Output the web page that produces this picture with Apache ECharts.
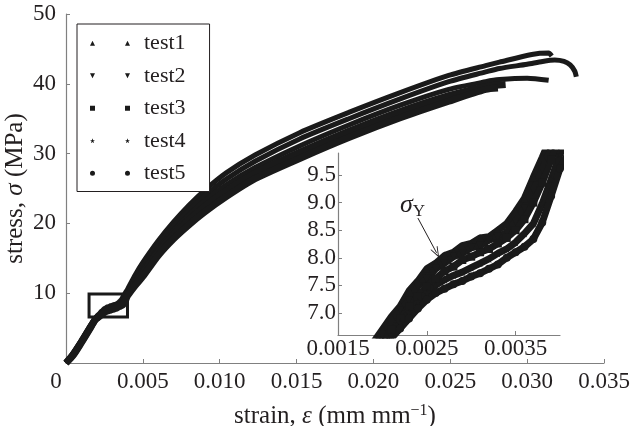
<!DOCTYPE html>
<html><head><meta charset="utf-8">
<script src="https://cdn.jsdelivr.net/npm/echarts@6/dist/echarts.min.js"></script>
<style>html,body{margin:0;padding:0;background:#fff}#c{width:632px;height:426px}</style>
</head><body><div id="c"></div>
<script>
const seriesNames = ['test1', 'test2', 'test3', 'test4', 'test5'];

const test1 = [[0,0],[0.0005,1.6],[0.001,3.3],[0.0015,5.1],
[0.0019,6.47],[0.0020,6.70],[0.0021,6.93],[0.0022,7.12],[0.0023,7.40],[0.0024,7.58],[0.0025,7.80],[0.0026,7.90],[0.0027,8.04],[0.0028,8.10],[0.0029,8.22],[0.0030,8.26],[0.0031,8.36],[0.0032,8.38],[0.0033,8.50],[0.0034,8.62],[0.0035,8.84],[0.0036,9.08],[0.0037,9.46],[0.0038,9.82],[0.0039,10.20],[0.0040,10.55],
[0.0045,12.6],[0.005,14.4],[0.006,17.5],[0.007,20.2],[0.008,22.6],[0.009,24.7],[0.0104,27.2],[0.0123,29.8],[0.0152,33.0],[0.0184,35.9],[0.0217,38.7],[0.0249,41.2],[0.0273,42.6],[0.0282,43.1],[0.0303,44.2],[0.0314,44.4],[0.0316,44.0]];

const test2 = [[0,0],[0.0005,1.5],[0.001,3.2],[0.0015,5.0],
[0.0019,6.38],[0.0020,6.60],[0.0021,6.80],[0.0022,7.05],[0.0023,7.22],[0.0024,7.48],[0.0025,7.62],[0.0026,7.80],[0.0027,7.90],[0.0028,8.02],[0.0029,8.08],[0.0030,8.18],[0.0031,8.22],[0.0032,8.32],[0.0033,8.38],[0.0034,8.46],[0.0035,8.66],[0.0036,8.90],[0.0037,9.22],[0.0038,9.60],[0.0039,9.98],[0.0040,10.35],
[0.0045,12.3],[0.005,13.9],[0.006,17.0],[0.007,19.6],[0.008,21.9],[0.009,23.9],[0.0104,26.3],[0.0123,28.9],[0.0152,32.1],[0.0184,35.0],[0.0217,37.8],[0.0249,40.3],[0.0273,41.7],[0.0282,42.2],[0.030,42.8],[0.031,43.2],[0.0318,43.4],[0.0324,43.2],[0.0328,42.7],[0.0331,41.8],[0.0332,41.0]];

const test3 = [[0,0],[0.0005,1.4],[0.001,3.1],[0.0015,4.9],
[0.0019,6.30],[0.0020,6.50],[0.0021,6.70],[0.0022,6.90],[0.0023,7.12],[0.0024,7.30],[0.0025,7.48],[0.0026,7.62],[0.0027,7.76],[0.0028,7.84],[0.0029,7.96],[0.0030,8.02],[0.0031,8.10],[0.0032,8.16],[0.0033,8.26],[0.0034,8.36],[0.0035,8.50],[0.0036,8.70],[0.0037,9.00],[0.0038,9.36],[0.0039,9.78],[0.0040,10.15],
[0.0045,11.9],[0.005,13.4],[0.006,16.4],[0.007,19.0],[0.008,21.2],[0.009,23.2],[0.0104,25.5],[0.0123,28.0],[0.0152,31.1],[0.0184,34.1],[0.0217,36.9],[0.0249,39.2],[0.0273,40.3],[0.0282,40.6],[0.030,40.8],[0.0314,40.5]];

const test4 = [[0,0],[0.0005,1.3],[0.001,3.0],[0.0015,4.8],
[0.0019,6.24],[0.0020,6.44],[0.0021,6.60],[0.0022,6.82],[0.0023,7.00],[0.0024,7.20],[0.0025,7.36],[0.0026,7.50],[0.0027,7.60],[0.0028,7.68],[0.0029,7.74],[0.0030,7.82],[0.0031,7.90],[0.0032,7.98],[0.0033,8.08],[0.0034,8.16],[0.0035,8.28],[0.0036,8.44],[0.0037,8.62],[0.0038,8.98],[0.0039,9.42],[0.0040,9.88],
[0.0045,11.4],[0.005,12.9],[0.006,15.9],[0.007,18.4],[0.008,20.5],[0.009,22.4],[0.0104,24.6],[0.0123,27.2],[0.0152,30.2],[0.0184,33.2],[0.0217,36.0],[0.0249,38.3],[0.0273,39.6],[0.0286,39.9]];

const test5 = [[0,0],[0.0005,1.2],[0.001,2.9],[0.0015,4.7],
[0.0019,6.18],[0.0020,6.36],[0.0021,6.54],[0.0022,6.72],[0.0023,6.90],[0.0024,7.08],[0.0025,7.24],[0.0026,7.36],[0.0027,7.44],[0.0028,7.52],[0.0029,7.58],[0.0030,7.66],[0.0031,7.72],[0.0032,7.80],[0.0033,7.88],[0.0034,8.00],[0.0035,8.10],[0.0036,8.20],[0.0037,8.34],[0.0038,8.64],[0.0039,9.12],[0.0040,9.62],
[0.0045,11.1],[0.005,12.4],[0.006,15.4],[0.007,17.8],[0.008,19.8],[0.009,21.6],[0.0104,23.8],[0.0123,26.4],[0.0152,29.3],[0.0184,32.3],[0.0217,35.1],[0.0249,37.5],[0.0273,39.2],[0.0281,39.4]];

const insetXRange = [0.0015, 0.004];
const insetYRange = [6.6, 9.9];
const insetXTicks = [0.0015, 0.0025, 0.0035];
const insetYTicks = [7.0, 7.5, 8.0, 8.5, 9.0, 9.5];
const yieldArrowFrom = [0.0024, 8.72];
const yieldArrowTo = [0.00261, 8.09];
const yieldLabelAt = [0.00234, 8.95];

const tests = [test1, test2, test3, test4, test5];
const FONT = '"Liberation Serif", "Times New Roman", serif';
const TXT = '#231f20';
const AX = '#808080';
const INK = '#1a1a1a';

const legendIcons = [
  'path://M0,10 L5,0 L10,10 Z M70,10 L75,0 L80,10 Z',
  'path://M0,0 L10,0 L5,10 Z M70,0 L80,0 L75,10 Z',
  'path://M0,0 L10,0 L10,10 L0,10 Z M70,0 L80,0 L80,10 L70,10 Z',
  'path://M5,0 L6.2,3.8 L10,3.8 L6.9,6.1 L8.1,10 L5,7.6 L1.9,10 L3.1,6.1 L0,3.8 L3.8,3.8 Z M75,0 L76.2,3.8 L80,3.8 L76.9,6.1 L78.1,10 L75,7.6 L71.9,10 L73.1,6.1 L70,3.8 L73.8,3.8 Z',
  'path://M0,5 A5,5 0 1,0 10,5 A5,5 0 1,0 0,5 Z M70,5 A5,5 0 1,0 80,5 A5,5 0 1,0 70,5 Z'
];
const insetSymbols = [
  'triangle',
  'path://M0,0 L10,0 L5,10 Z',
  'rect',
  'path://M5,0 L6.2,3.8 L10,3.8 L6.9,6.1 L8.1,10 L5,7.6 L1.9,10 L3.1,6.1 L0,3.8 L3.8,3.8 Z',
  'circle'
];

const mainSeries = tests.map((d, i) => ({
  name: seriesNames[i], type: 'line', xAxisIndex: 0, yAxisIndex: 0, data: d,
  smooth: 0.25,
  showSymbol: false, lineStyle: { color: INK, width: i >= 3 ? 7 : 5, join: 'round' },
  itemStyle: { color: INK }, z: 3, silent: true
}));
mainSeries[0].markArea = {
  silent: true,
  itemStyle: { color: 'rgba(0,0,0,0)', borderColor: INK, borderWidth: 3 },
  data: [[{ coord: [insetXRange[0], insetYRange[0]] }, { coord: [insetXRange[1], insetYRange[1]] }]]
};

const insetSeries = tests.map((d, i) => ({
  name: seriesNames[i], type: 'line', xAxisIndex: 1, yAxisIndex: 1, data: d,
  symbol: insetSymbols[i], symbolSize: 8, showSymbol: true, showAllSymbol: true,
  lineStyle: { color: INK, width: 7 }, itemStyle: { color: INK }, z: 3, silent: true
}));
insetSeries[0].markLine = {
  silent: true, symbol: ['none', 'path://M5,0 L10,10 L8.8,10 L5,2.4 L1.2,10 L0,10 Z'], symbolSize: [8, 11],
  lineStyle: { color: TXT, width: 1, type: 'solid' }, label: { show: false },
  data: [[{ coord: yieldArrowFrom }, { coord: yieldArrowTo }]]
};
insetSeries[0].markPoint = {
  silent: true, symbol: 'circle', symbolSize: 0,
  label: {
    show: true, position: 'inside', formatter: '{s|σ}{y|Y}',
    rich: {
      s: { fontFamily: FONT, fontSize: 26, fontStyle: 'italic', color: TXT },
      y: { fontFamily: FONT, fontSize: 17, color: TXT, padding: [12, 0, 0, 0] }
    }
  },
  data: [{ coord: yieldLabelAt }]
};

const chart = echarts.init(document.getElementById('c'), null, { renderer: 'canvas' });
chart.setOption({
  animation: false,
  backgroundColor: '#fff',
  grid: [
    { left: 66, right: 28, top: 14, bottom: 63, outerBoundsMode: 'none', containLabel: false },
    { left: 338, right: 72, top: 153, bottom: 91, outerBoundsMode: 'none', containLabel: false }
  ],
  legend: {
    left: 77, top: 24, orient: 'vertical', padding: [7, 24, 6, 13], itemGap: 8,
    itemWidth: 40, itemHeight: 5, borderColor: TXT, borderWidth: 1, backgroundColor: '#fff',
    textStyle: { fontFamily: FONT, fontSize: 22, color: TXT, lineHeight: 24.5, padding: [0, 0, 0, 9] },
    data: seriesNames.map((n, i) => ({ name: n, icon: legendIcons[i], itemStyle: { color: INK } }))
  },
  xAxis: [
    {
      gridIndex: 0, type: 'value', min: 0, max: 0.035, interval: 0.005,
      name: '{n|strain, }{e|ε}{n| (mm mm}{p|−1}{n|)}', nameLocation: 'middle', nameGap: 40,
      nameMoveOverlap: false,
      nameTextStyle: { rich: {
        n: { fontFamily: FONT, fontSize: 25, color: TXT },
        e: { fontFamily: FONT, fontSize: 25, color: TXT, fontStyle: 'italic' },
        p: { fontFamily: FONT, fontSize: 16, color: TXT, padding: [0, 0, 11, 0] }
      } },
      axisLine: { lineStyle: { color: AX, width: 1.2 } },
      axisTick: { inside: true, length: 4, lineStyle: { color: AX } },
      splitLine: { show: false },
      axisLabel: {
        fontFamily: FONT, fontSize: 23, color: TXT, margin: 7,
        formatter: v => v === 0 ? '{z|0}' : v.toFixed(3),
        rich: { z: { fontFamily: FONT, fontSize: 23, color: TXT, padding: [0, 20, 0, 0] } }
      }
    },
    {
      gridIndex: 1, type: 'value', min: insetXRange[0], max: insetXRange[1],
      axisLine: { lineStyle: { color: AX, width: 1.2 } },
      axisTick: { inside: true, length: 4, lineStyle: { color: AX }, customValues: insetXTicks },
      splitLine: { show: false },
      axisLabel: { fontFamily: FONT, fontSize: 23, color: TXT, margin: 2, customValues: insetXTicks,
        formatter: v => v.toFixed(4) }
    }
  ],
  yAxis: [
    {
      gridIndex: 0, type: 'value', min: 0, max: 50, interval: 10,
      name: '{n|stress, }{s|σ}{n| (MPa)}', nameLocation: 'middle', nameGap: 38,
      nameMoveOverlap: false,
      nameTextStyle: { rich: {
        n: { fontFamily: FONT, fontSize: 25, color: TXT },
        s: { fontFamily: FONT, fontSize: 25, color: TXT, fontStyle: 'italic' }
      } },
      axisLine: { show: true, lineStyle: { color: AX, width: 1.2 } },
      axisTick: { show: true, inside: true, length: 4, lineStyle: { color: AX } },
      splitLine: { show: false },
      axisLabel: { fontFamily: FONT, fontSize: 23, color: TXT, margin: 10,
        formatter: v => v === 0 ? '' : String(v) }
    },
    {
      gridIndex: 1, type: 'value', min: insetYRange[0], max: insetYRange[1],
      axisLine: { show: true, lineStyle: { color: AX, width: 1.2 } },
      axisTick: { show: true, inside: true, length: 4, lineStyle: { color: AX }, customValues: insetYTicks },
      splitLine: { show: false },
      axisLabel: { fontFamily: FONT, fontSize: 23, color: TXT, margin: 2, customValues: insetYTicks,
        formatter: v => v.toFixed(1) }
    }
  ],
  series: mainSeries.concat(insetSeries)
});
</script></body></html>
